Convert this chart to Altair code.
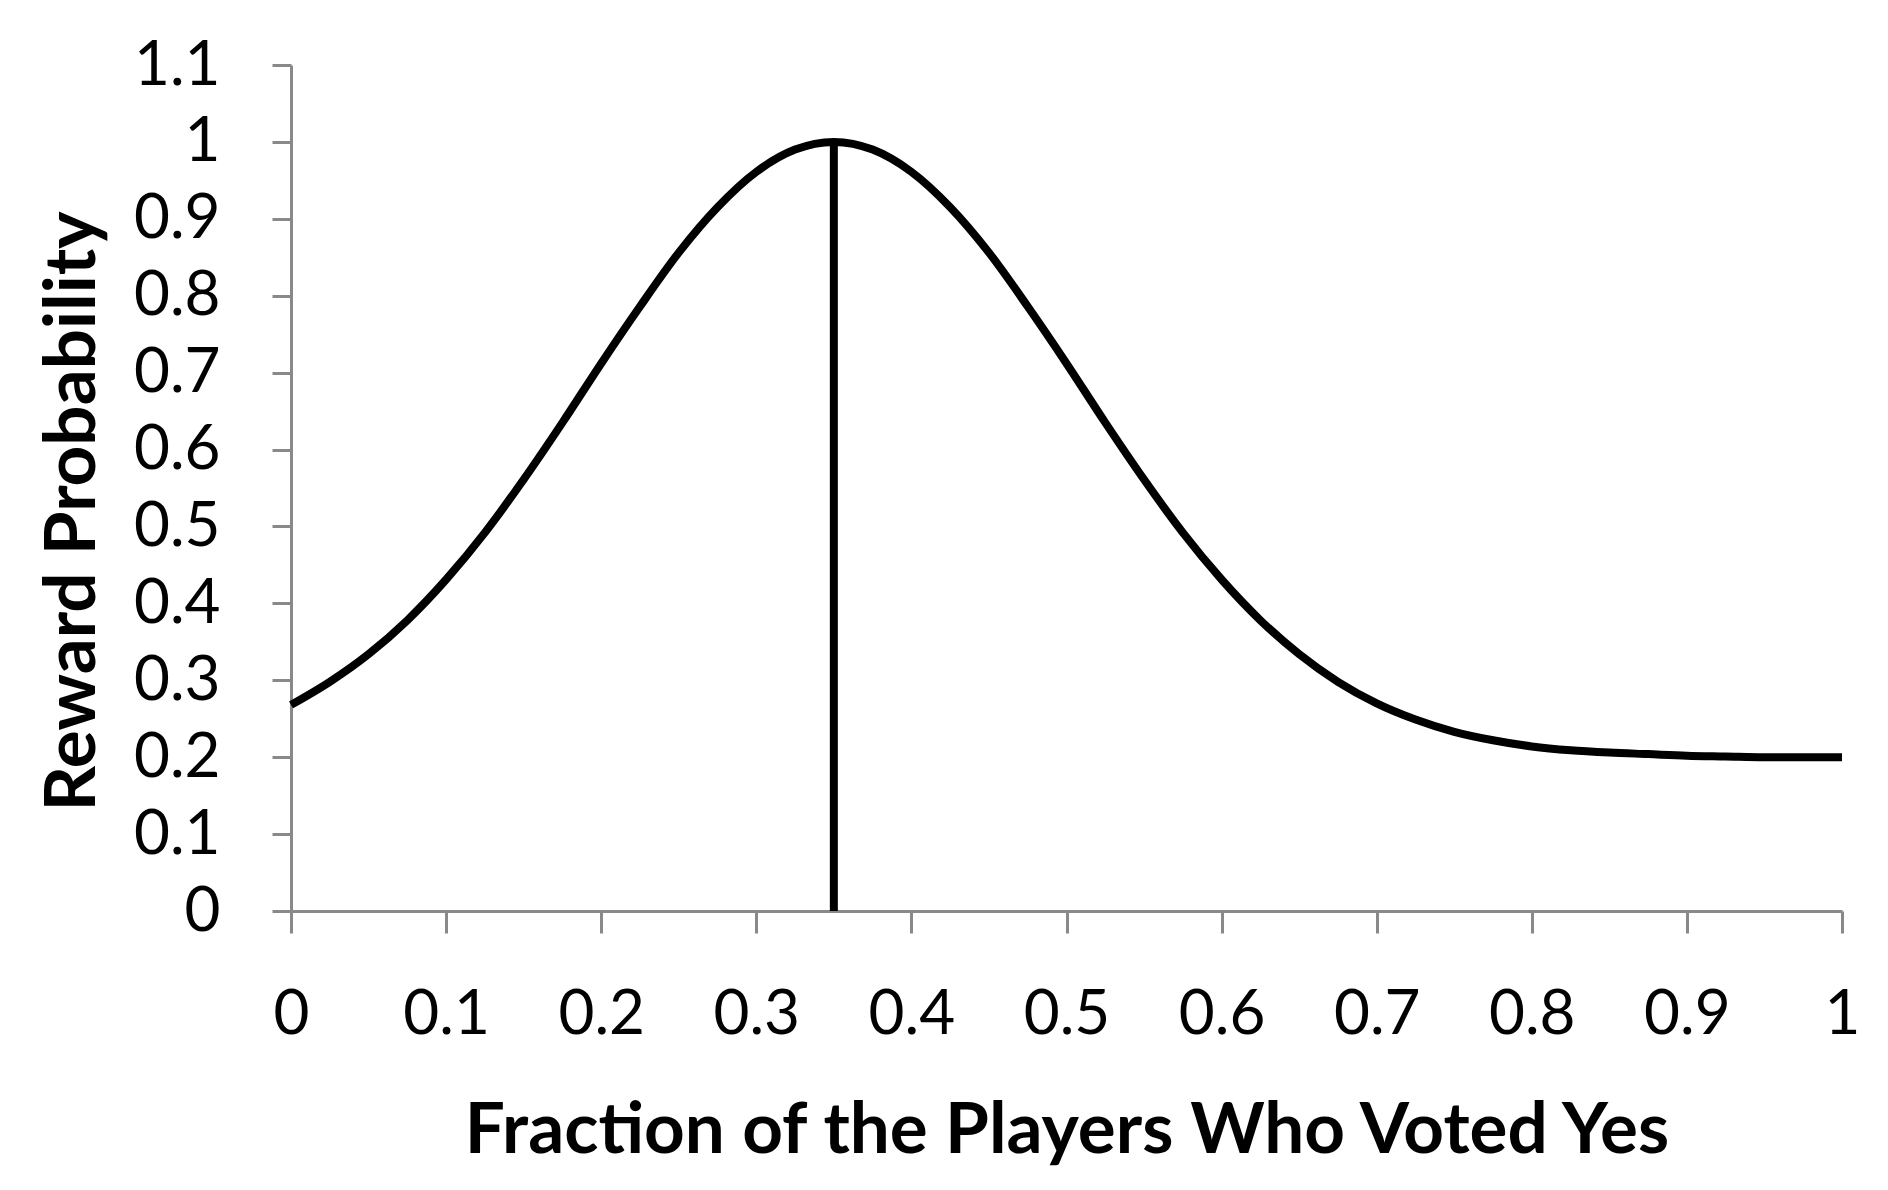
import altair as alt
import pandas as pd

# Curve
x_vals = [0.0, 0.025, 0.05, 0.075, 0.1, 0.125, 0.15, 0.175, 0.2, 0.225, 0.25,
          0.275, 0.3, 0.325, 0.35, 0.375, 0.4, 0.425, 0.45, 0.475, 0.5,
          0.525, 0.55, 0.575, 0.6, 0.625, 0.65, 0.675, 0.7, 0.725, 0.75,
          0.775, 0.8, 0.825, 0.85, 0.875, 0.9, 0.925, 0.95, 0.975, 1.0]
y_vals = [0.268, 0.298, 0.334, 0.378, 0.431, 0.492, 0.561, 0.635, 0.712, 0.786, 0.856,
          0.915, 0.961, 0.990, 1.000, 0.990, 0.961, 0.915, 0.856, 0.786, 0.712,
          0.635, 0.561, 0.492, 0.431, 0.378, 0.334, 0.298, 0.270, 0.249, 0.233,
          0.222, 0.214, 0.209, 0.206, 0.204, 0.202, 0.201, 0.200, 0.200, 0.200]

# Vertical marker at the peak
peak_x = [0.35]
peak_low = [0.0]
peak_high = [1.0]

x_ticks = [0, 0.1, 0.2, 0.3, 0.4, 0.5, 0.6, 0.7, 0.8, 0.9, 1.0]
y_ticks = [0, 0.1, 0.2, 0.3, 0.4, 0.5, 0.6, 0.7, 0.8, 0.9, 1.0, 1.1]

x_title = "Fraction of the Players Who Voted Yes"
y_title = "Reward Probability"

curve_df = pd.DataFrame({"x": x_vals, "y": y_vals})
rule_df = pd.DataFrame({"x": peak_x, "y": peak_low, "y2": peak_high})

W, H = 1551, 846
AXIS_GRAY = "#898989"

x_scale = alt.Scale(domain=[0, 1], nice=False, zero=False)
y_scale = alt.Scale(domain=[0, 1.1], nice=False)

x_axis = alt.Axis(
    values=x_ticks, format=".1~f", title=x_title, grid=False,
    tickSize=22, labelPadding=51, labelBaseline="top",
    titleX=W / 2, titleY=241, titleAlign="center", titleBaseline="alphabetic",
)
y_axis = alt.Axis(
    values=y_ticks, format=".1~f", title=y_title, grid=False,
    tickSize=19, labelPadding=52, labelBaseline="middle",
    titleX=-197, titleY=446, titleAngle=270, titleAlign="center",
    titleBaseline="alphabetic",
)

curve = alt.Chart(curve_df).mark_line(
    color="black", strokeWidth=8, interpolate="monotone", strokeCap="butt"
).encode(
    x=alt.X("x:Q", scale=x_scale, axis=x_axis),
    y=alt.Y("y:Q", scale=y_scale, axis=y_axis),
)

rule = alt.Chart(rule_df).mark_rule(color="black", strokeWidth=8).encode(
    x=alt.X("x:Q", scale=x_scale, axis=x_axis),
    y=alt.Y("y:Q", scale=y_scale, axis=y_axis),
    y2="y2:Q",
)

chart = alt.layer(curve, rule).properties(
    width=W, height=H,
    autosize=alt.AutoSizeParams(type="none"),
    padding={"left": 283, "top": 57, "right": 30, "bottom": 260},
    background="white",
).configure_view(stroke=None).configure_axis(
    domainColor=AXIS_GRAY, tickColor=AXIS_GRAY, domainWidth=3, tickWidth=3,
    labelColor="black", titleColor="black",
    labelFont="Lato", titleFont="Lato",
    labelFontSize=62, titleFontSize=71, titleFontWeight="bold",
    labelOverlap=False, labelFlush=False,
)

chart.save("out.html", embed_options={"renderer": "svg", "actions": False})
